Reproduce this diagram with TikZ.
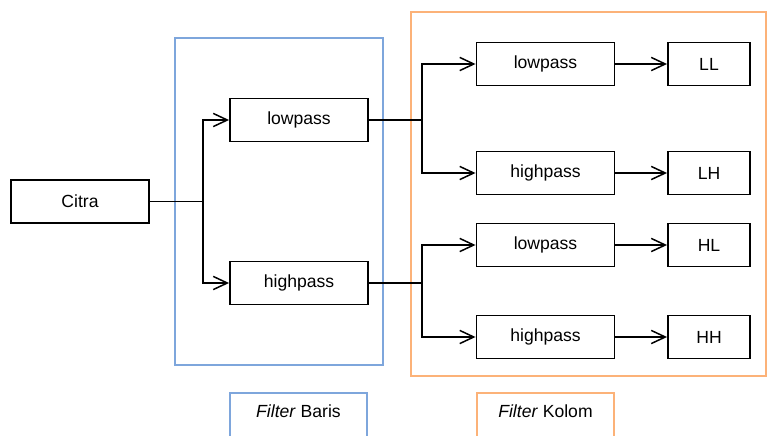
\documentclass[tikz,border=0pt]{standalone}
\usepackage{fontspec}
\setmainfont{Liberation Sans}
\usetikzlibrary{arrows.meta}
\definecolor{barisblue}{RGB}{126,166,220}
\definecolor{kolomorange}{RGB}{252,178,120}
\begin{document}
\begin{tikzpicture}[x=0.02cm,y=-0.02cm,
  box/.style={draw,line width=1.1pt,minimum width=2.76cm,minimum height=0.86cm,inner sep=0pt},
  hasil/.style={box,minimum width=1.64cm},
  arr/.style={-{Straight Barb[length=8pt,width=7.5pt]},line width=0.85pt},
  tebal/.style={line width=1.6pt}]
\useasboundingbox (0,0) rectangle (768,436);
\clip (0,0) rectangle (768,436);
% frames
\draw [barisblue,line width=0.8pt] (175,38) rectangle (383,365);
\draw [kolomorange,line width=0.8pt] (411,12) rectangle (766,376);
\draw [barisblue,line width=0.8pt] (230,393) rectangle (367,450);
\draw [kolomorange,line width=0.8pt] (477,393) rectangle (614,450);
\node (baris) at (298.5,411) {\textit{Filter} Baris};
\node (kolom) at (545.5,411) {\textit{Filter} Kolom};
% boxes
\node [box] (citra) at (80,201.5) {Citra};
\node [box] (rlow) at (299,120) {lowpass};
\node [box] (rhigh) at (299,283) {highpass};
\node [box] (clowa) at (545.5,64) {lowpass};
\node [box] (chigha) at (545.5,173) {highpass};
\node [box] (clowb) at (545.5,245) {lowpass};
\node [box] (chighb) at (545.5,337) {highpass};
\node [hasil] (ll) at (709,64) {LL};
\node [hasil] (lh) at (709,173) {LH};
\node [hasil] (hl) at (709,245) {HL};
\node [hasil] (hh) at (709,337) {HH};
% row filter
\coordinate (sa) at (203,201.5);
\draw [line width=0.85pt] (citra) -- (sa);
\draw [arr] (sa) |- (rlow);
\draw [arr] (sa) |- (rhigh);
% column filter
\coordinate (sb) at (422,120);
\coordinate (sc) at (422,283);
\draw [tebal] (rlow) -- (sb);
\draw [tebal] (rhigh) -- (sc);
\draw [arr] (sb) |- (clowa);
\draw [arr] (sb) |- (chigha);
\draw [arr] (sc) |- (clowb);
\draw [arr] (sc) |- (chighb);
% outputs
\draw [arr] (clowa) -- (ll);
\draw [arr] (chigha) -- (lh);
\draw [arr] (clowb) -- (hl);
\draw [arr] (chighb) -- (hh);
\end{tikzpicture}
\end{document}
